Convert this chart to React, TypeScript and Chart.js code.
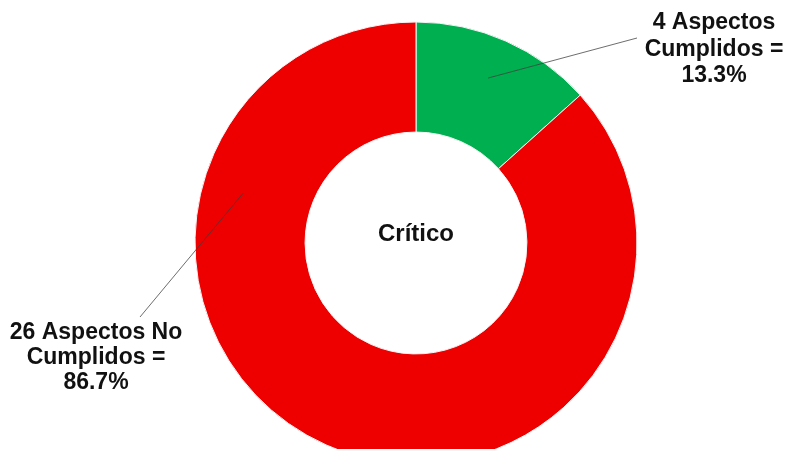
import React, { useEffect, useRef } from "react";
import { Chart, registerables } from "chart.js";

Chart.register(...registerables);

const categories = ["Aspectos Cumplidos", "Aspectos No Cumplidos"];
const counts = [4, 26];
const labelLines = [
  ["4 Aspectos", "Cumplidos =", "13.3%"],
  ["26 Aspectos No", "Cumplidos =", "86.7%"],
];
const centerText = "Crítico";
const colors = ["#00B050", "#EE0000"];

const labelPlugin = {
  id: "donutLabels",
  afterDatasetsDraw(chart: any) {
    const ctx = chart.ctx;
    const meta = chart.getDatasetMeta(0);
    const arcs = meta.data;
    const cx = arcs[0].x;
    const cy = arcs[0].y;
    const leaders = [
      { angleDeg: 23.6, r: 180, tx: 637, ty: 38 },
      { angleDeg: 286, r: 180, tx: 140, ty: 317 },
    ];
    ctx.save();
    ctx.strokeStyle = "rgba(60,60,60,0.75)";
    ctx.lineWidth = 1;
    leaders.forEach((l) => {
      const a = (l.angleDeg * Math.PI) / 180;
      const sx = cx + l.r * Math.sin(a);
      const sy = cy - l.r * Math.cos(a);
      ctx.beginPath();
      ctx.moveTo(sx, sy);
      ctx.lineTo(l.tx, l.ty);
      ctx.stroke();
    });
    ctx.fillStyle = "#111";
    ctx.textAlign = "center";
    ctx.textBaseline = "middle";
    ctx.font = "bold 23px 'Liberation Sans', Arial, sans-serif";
    const pos = [
      { x: 714, y: 23, lh: 26.5 },
      { x: 96, y: 333, lh: 25 },
    ];
    labelLines.forEach((lines, i) => {
      lines.forEach((t, j) => {
        ctx.fillText(t, pos[i].x, pos[i].y + j * pos[i].lh);
      });
    });
    ctx.font = "bold 24px 'Liberation Sans', Arial, sans-serif";
    ctx.fillText(centerText, cx, cy - 9);
    ctx.restore();
  },
};

export default function App() {
  const ref = useRef<HTMLCanvasElement | null>(null);
  useEffect(() => {
    if (!ref.current) return;
    const chart = new Chart(ref.current, {
      type: "doughnut",
      data: {
        labels: categories,
        datasets: [
          {
            data: counts,
            backgroundColor: colors,
            borderColor: "#f4f4f4",
            borderWidth: 1,
            radius: 221,
            cutout: "50.2%",
          } as any,
        ],
      },
      options: {
        responsive: false,
        animation: false,
        layout: { padding: { left: 47, right: 0, top: 0, bottom: 0 } },
        plugins: {
          legend: { display: false },
          tooltip: { enabled: false },
        },
      },
      plugins: [labelPlugin],
    });
    return () => chart.destroy();
  }, []);
  return (
    <div
      style={{
        position: "fixed",
        left: 0,
        top: 0,
        width: 785,
        height: 449,
        overflow: "hidden",
        background: "#fff",
      }}
    >
      <canvas ref={ref} width={785} height={486} style={{ display: "block" }} />
    </div>
  );
}
